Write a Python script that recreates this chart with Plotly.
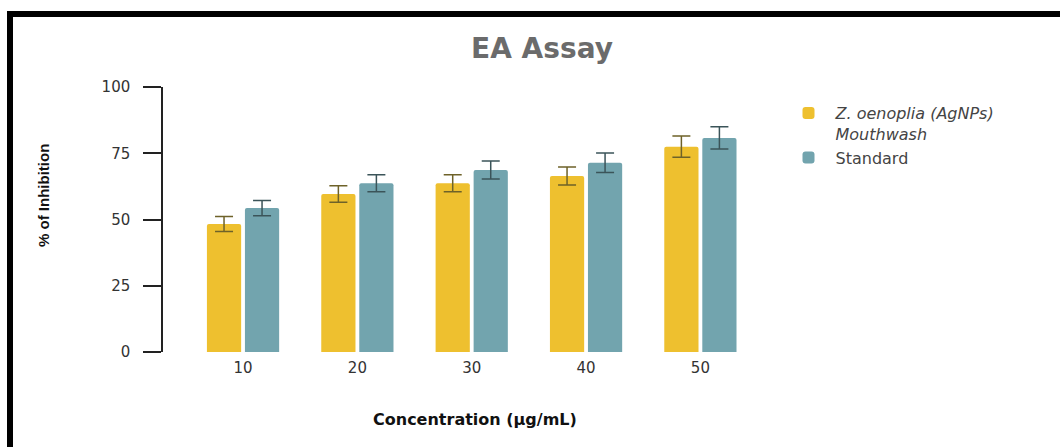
import plotly.graph_objects as go

# Concentrations tested and % inhibition (mean ± SD)
concentrations = ["10", "20", "30", "40", "50"]
mouthwash_mean = [48.3, 59.6, 63.7, 66.4, 77.5]
mouthwash_sd = [2.8, 3.1, 3.2, 3.4, 4.0]
standard_mean = [54.3, 63.7, 68.7, 71.4, 80.8]
standard_sd = [2.9, 3.2, 3.4, 3.7, 4.2]
y_ticks = [0, 25, 50, 75, 100]

W, H = 1060, 447
ML, MR, MT, MB = 163, 291, 87, 95
PW, PH = W - ML - MR, H - MT - MB

SANS = "DejaVu Sans, Verdana, sans-serif"


def px_x(px):
    return (px - ML) / PW


def px_y(py):
    return (H - MB - py) / PH


fig = go.Figure()
fig.add_trace(go.Bar(
    x=concentrations, y=mouthwash_mean,
    name="<i>Z. oenoplia (AgNPs)<br>Mouthwash</i>",
    marker=dict(color="#EEC02F", cornerradius=2, line=dict(width=0)),
    error_y=dict(type="data", array=mouthwash_sd, color="#6E6229",
                 thickness=1.5, width=9),
))
fig.add_trace(go.Bar(
    x=concentrations, y=standard_mean,
    name="Standard",
    marker=dict(color="#72A4AE", cornerradius=2, line=dict(width=0)),
    error_y=dict(type="data", array=standard_sd, color="#3B5459",
                 thickness=1.5, width=9),
))

# outer frame (top and left edges)
frame = dict(type="line", xref="paper", yref="paper",
             line=dict(color="black", width=6), layer="above")
fig.add_shape(**frame, x0=px_x(7), x1=px_x(1060), y0=px_y(14), y1=px_y(14))
fig.add_shape(**frame, x0=px_x(10), x1=px_x(10), y0=px_y(11), y1=px_y(447))

# axis titles
fig.add_annotation(text="<b>Concentration (µg/mL)</b>", xref="paper", yref="paper",
                   x=px_x(475), y=px_y(419), xanchor="center", yanchor="middle",
                   showarrow=False, font=dict(size=16, color="#111111", family=SANS))
fig.add_annotation(text="<b>% of Inhibition</b>", xref="paper", yref="paper",
                   x=px_x(43), y=px_y(196), xanchor="center", yanchor="middle",
                   textangle=-90, showarrow=False,
                   font=dict(size=15, color="#111111",
                             family="Liberation Sans Narrow, Liberation Sans, Arial"))

fig.update_layout(
    width=W, height=H,
    margin=dict(l=ML, r=MR, t=MT, b=MB, autoexpand=False),
    paper_bgcolor="white", plot_bgcolor="white",
    barmode="group", bargap=0.335, bargroupgap=0.1,
    font=dict(family=SANS, color="#333333"),
    title=dict(text="<b>EA Assay</b>", x=542 / W,
               xanchor="center", y=1 - 48 / H, yanchor="middle",
               font=dict(size=28, color="#6B6B6B", family=SANS)),
    showlegend=True,
    legend=dict(x=px_x(781.5), y=px_y(96), xanchor="left", yanchor="top",
                valign="top", tracegroupgap=0, itemwidth=44,
                font=dict(size=16, color="#444444", family=SANS),
                bgcolor="rgba(0,0,0,0)"),
    xaxis=dict(
        type="category", range=[-0.7, 4.6],
        showline=False, ticks="", showgrid=False, zeroline=False,
        ticklabelstandoff=5,
        tickfont=dict(size=15, color="#333333"),
    ),
    yaxis=dict(
        range=[0, 100], tickvals=y_ticks,
        showline=True, linecolor="#222222", linewidth=1.5,
        ticks="outside", ticklen=18, tickwidth=1.5, tickcolor="#222222",
        ticklabelstandoff=10,
        showgrid=False, zeroline=False,
        tickfont=dict(size=15, color="#333333"),
    ),
)

fig.write_html("out.html")
